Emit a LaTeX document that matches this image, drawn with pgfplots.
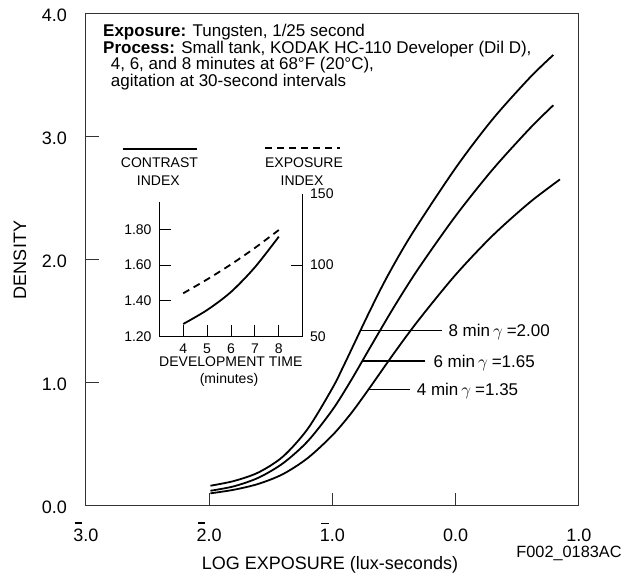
\documentclass[border=0pt]{standalone}
\usepackage{fontspec}
\setmainfont{Liberation Sans}
\usepackage{pgfplots}
\pgfplotsset{compat=1.18}
\newcommand{\bnum}[1]{\leavevmode\setbox0=\hbox{#1}\rlap{\hbox to\wd0{\hss\rule[\dimexpr\ht0+5.5pt\relax]{7.3pt}{1.2pt}\hss}}\box0}
\newcommand{\fs}[1]{\fontsize{#1}{#1}\selectfont}
\begin{document}
\begin{tikzpicture}[x=1pt,y=1pt]
\begin{axis}[
  at={(0,0)}, anchor=south west,
  scale only axis, width=492.8pt, height=492pt,
  xmin=-3, xmax=1, ymin=0, ymax=4,
  clip=false,
  axis line style={black!80, line width=1pt},
  tick align=inside, xtick pos=bottom, ytick pos=left,
  major tick length=13pt,
  tick style={black!80, line width=1pt},
  xtick={-3,-2,-1,0,1},
  xticklabels={\bnum{3}.0,\bnum{2}.0,\bnum{1}.0,0.0,1.0},
  ytick={0,1,2,3,4},
  yticklabels={0.0,1.0,2.0,3.0,4.0},
  /pgf/number format/assume math mode=true,
  ticklabel style={font=\fs{18}, inner sep=0pt},
  xticklabel style={anchor=base, yshift=-35.7pt},
  yticklabel style={anchor=east, xshift=-19pt, yshift=-1.5pt},
]
% 8 min
\addplot[black, line width=1.8pt, smooth] coordinates {
(-1.99,0.165)(-1.8,0.203)(-1.6,0.273)(-1.4,0.403)(-1.2,0.628)(-1.0,0.958)(-0.9,1.158)(-0.7,1.578)(-0.55,1.874)(-0.35,2.219)(0,2.748)(0.3,3.144)(0.6,3.480)(0.793,3.667)};
% 6 min
\addplot[black, line width=1.8pt, smooth] coordinates {
(-1.99,0.124)(-1.8,0.160)(-1.6,0.230)(-1.4,0.348)(-1.2,0.527)(-1.0,0.781)(-0.85,1.019)(-0.7,1.278)(-0.5,1.618)(-0.3,1.933)(0,2.358)(0.3,2.735)(0.6,3.067)(0.793,3.258)};
% 4 min
\addplot[black, line width=1.8pt, smooth] coordinates {
(-1.99,0.103)(-1.8,0.132)(-1.6,0.180)(-1.4,0.260)(-1.2,0.390)(-1.0,0.575)(-0.85,0.751)(-0.7,0.957)(-0.5,1.242)(-0.3,1.512)(0,1.880)(0.3,2.198)(0.6,2.467)(0.847,2.655)};
% leader lines and labels
\draw[line width=1.2pt] (axis cs:-0.775,1.425) -- (axis cs:-0.113,1.425);
\draw[line width=1.2pt] (axis cs:-0.757,1.179) -- (axis cs:-0.248,1.179);
\draw[line width=1.2pt] (axis cs:-0.711,0.949) -- (axis cs:-0.370,0.949);
\node[anchor=base west, inner sep=0pt, font=\fs{17}] at (axis cs:-0.059,1.376) {8 min\hspace{3pt}$\gamma$\hspace{4pt}=2.00};
\node[anchor=base west, inner sep=0pt, font=\fs{17}] at (axis cs:-0.181,1.129) {6 min\hspace{3pt}$\gamma$\hspace{4pt}=1.65};
\node[anchor=base west, inner sep=0pt, font=\fs{17}] at (axis cs:-0.316,0.899) {4 min\hspace{3pt}$\gamma$\hspace{4pt}=1.35};
\end{axis}
% header text
\node[anchor=base west, inner sep=0pt, font=\fs{17}] at (17,469.3) {\textbf{Exposure:} Tungsten, 1/25 second};
\node[anchor=base west, inner sep=0pt, font=\fs{17}] at (17,452.8) {\textbf{Process:} Small tank, KODAK HC-110 Developer (Dil D),};
\node[anchor=base west, inner sep=0pt, font=\fs{17}] at (24.7,436.3) {4, 6, and 8 minutes at 68°F (20°C),};
\node[anchor=base west, inner sep=0pt, font=\fs{17}] at (24.7,419.8) {agitation at 30-second intervals};
% axis titles
\node[rotate=90, inner sep=0pt, font=\fs{18}] at (-66,246) {DENSITY};
\node[anchor=base, inner sep=0pt, font=\fs{18}] at (244,-63.3) {LOG EXPOSURE (lux-seconds)};
\node[anchor=base, inner sep=0pt, font=\fs{16.3}] at (483,-51.3) {F002\_0183AC};
% inset: contrast index
\begin{axis}[
  at={(73.3pt,169.3pt)}, anchor=south west,
  scale only axis, width=143.4pt, height=143.2pt,
  xmin=3, xmax=9, ymin=1.2, ymax=2.0,
  clip=false,
  axis line style={draw=none},
  tick align=inside, xtick pos=bottom, ytick pos=left,
  major tick length=12pt,
  tick style={black, line width=1pt},
  xtick={4,5,6,7,8}, xticklabels={4,5,6,7,8},
  ytick={1.2,1.4,1.6,1.8}, yticklabels={1.20,1.40,1.60,1.80},
  ticklabel style={font=\fs{14}, inner sep=0pt},
  xticklabel style={anchor=north, yshift=-6.6pt},
  yticklabel style={anchor=east, xshift=-7.6pt},
]
\draw[line width=1pt] (axis cs:3,1.95) -- (axis cs:3,1.2) -- (axis cs:9,1.2) -- (axis cs:9,2.0);
\addplot[black, line width=1.8pt, smooth] coordinates {(4,1.271)(5,1.349)(6,1.450)(7,1.588)(8,1.759)};
\end{axis}
% inset: exposure index
\begin{axis}[
  at={(73.3pt,169.3pt)}, anchor=south west,
  scale only axis, width=143.4pt, height=143.2pt,
  xmin=3, xmax=9, ymin=50, ymax=150,
  clip=false,
  axis line style={draw=none},
  xtick=\empty,
  ytick={50,100,150}, yticklabels={50,100,150},
  ytick pos=right, yticklabel pos=right,
  major tick length=0pt,
  ticklabel style={font=\fs{14}, inner sep=0pt},
  yticklabel style={anchor=west, xshift=7.3pt},
]
\draw[line width=1pt] (axis cs:9,100) -- ++(-12pt,0pt);
\addplot[black, line width=1.8pt, dash pattern=on 7pt off 5pt, smooth] coordinates {(4,80.3)(5,90)(6,100.5)(7,112)(8,124.5)};
\end{axis}
% inset legend
\draw[line width=1.7pt] (36.7,357) -- (110.7,357);
\draw[line width=1.7pt, dash pattern=on 7pt off 5pt] (179,358) -- (254,358);
\node[anchor=base, inner sep=0pt, font=\fs{14}] at (73.4,338) {CONTRAST};
\node[anchor=base, inner sep=0pt, font=\fs{14}] at (72.3,320) {INDEX};
\node[anchor=base, inner sep=0pt, font=\fs{14}] at (218,338) {EXPOSURE};
\node[anchor=base, inner sep=0pt, font=\fs{14}] at (216,320) {INDEX};
\node[anchor=base, inner sep=0pt, font=\fs{14}] at (144.8,139.3) {DEVELOPMENT TIME};
\node[anchor=base, inner sep=0pt, font=\fs{14}] at (143,122.4) {(minutes)};
\pgfresetboundingbox
\useasboundingbox (-86,-72) rectangle (551,506);
\end{tikzpicture}
\end{document}
